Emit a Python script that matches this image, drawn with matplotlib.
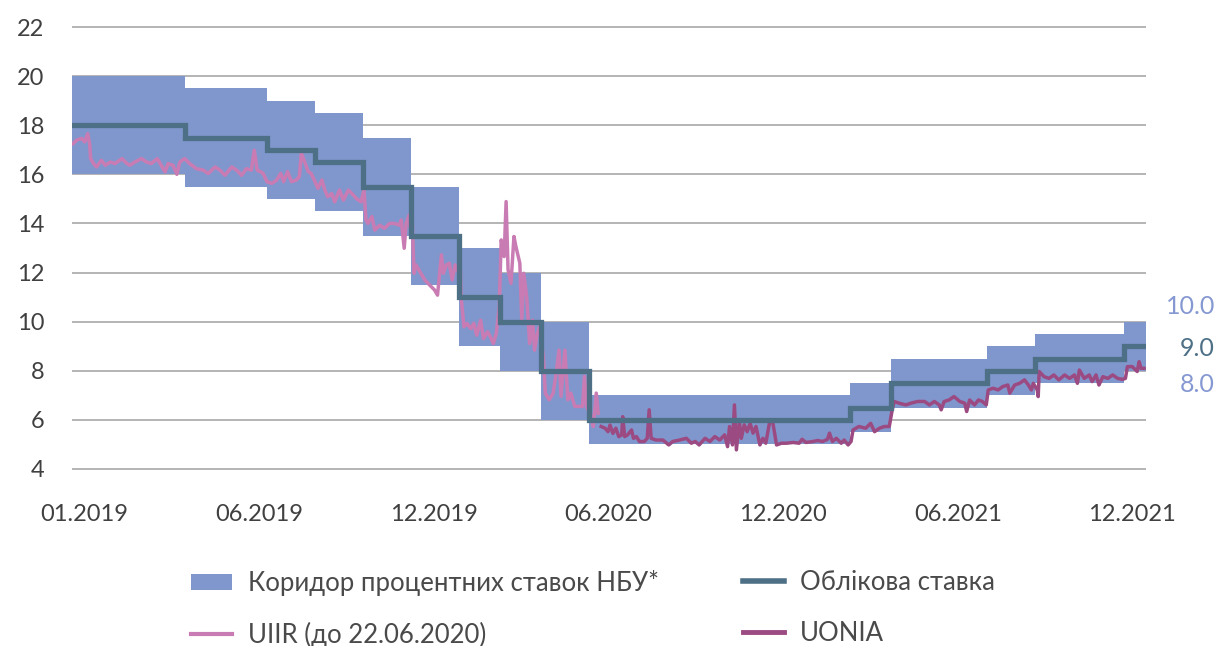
import matplotlib
matplotlib.use("Agg")
import matplotlib.pyplot as plt
from matplotlib.patches import Patch
from matplotlib.lines import Line2D
import numpy as np
import pandas as pd

plt.rcParams['font.family'] = ['Lato', 'DejaVu Sans']

# ---------------- data ----------------
start_date = '2019-01-01'
end_date = '2021-12-31'

# NBU key policy rate and interest-rate corridor (step changes)
key_dates = ['2019-01-01', '2019-04-26', '2019-07-19', '2019-09-06', '2019-10-25',
             '2019-12-13', '2020-01-31', '2020-03-13', '2020-04-24', '2020-06-12',
             '2021-03-05', '2021-04-16', '2021-07-23', '2021-09-10', '2021-12-10']
key_rate = [18, 17.5, 17, 16.5, 15.5, 13.5, 11, 10, 8, 6, 6.5, 7.5, 8, 8.5, 9]
corridor_low = [16, 15.5, 15, 14.5, 13.5, 11.5, 9, 8, 6, 5, 5.5, 6.5, 7, 7.5, 8]
corridor_high = [20, 19.5, 19, 18.5, 17.5, 15.5, 13, 12, 10, 7, 7.5, 8.5, 9, 9.5, 10]

# UIIR (until 22.06.2020): days since 01.01.2019, value %
uiir_day = [1, 5, 10, 13, 16, 18, 19, 22, 25, 30, 34, 39, 44, 51, 56, 59, 64, 71, 76, 81,
            87, 91, 95, 98, 103, 107, 110, 115, 120, 127, 134, 139, 146, 151, 156, 163, 168,
            173, 178, 183, 186, 189, 192, 195, 199, 204, 209, 213, 216, 220, 224, 229, 232,
            234, 238, 241, 244, 248, 251, 255, 258, 261, 265, 268, 273, 277, 282, 287, 290,
            295, 298, 300, 302, 306, 309, 314, 319, 324, 329, 334, 336, 339, 341, 344, 345,
            347, 349, 351, 355, 360, 365, 370, 373, 377, 379, 382, 385, 388, 391, 394, 396,
            397, 400, 403, 407, 410, 413, 417, 420, 424, 427, 430, 433, 436, 438, 441, 443,
            445, 448, 451, 453, 457, 459, 461, 464, 467, 470, 472, 475, 477, 481, 483, 487,
            491, 494, 497, 499, 503, 506, 509, 513, 517, 521, 523, 525, 530, 532, 535, 537]
uiir_val = [17.25, 17.40, 17.46, 17.32, 17.66, 17.25, 16.64, 16.44, 16.30, 16.57, 16.37,
            16.50, 16.44, 16.64, 16.44, 16.37, 16.50, 16.64, 16.50, 16.44, 16.64, 16.37,
            16.10, 16.44, 16.37, 16.00, 16.50, 16.64, 16.44, 16.23, 16.17, 16.03, 16.30,
            16.17, 15.96, 16.30, 16.17, 15.96, 16.23, 16.17, 16.98, 16.17, 16.11, 16.04,
            15.70, 15.63, 15.77, 16.04, 15.70, 16.11, 15.70, 15.77, 15.91, 16.86, 16.45,
            16.11, 16.04, 15.70, 15.43, 15.77, 15.36, 15.09, 15.22, 14.88, 15.36, 14.95,
            15.36, 15.16, 15.02, 14.88, 15.36, 14.14, 14.00, 14.28, 13.73, 13.93, 13.80,
            14.00, 14.00, 13.93, 14.14, 12.99, 14.00, 14.34, 13.86, 14.34, 11.97, 12.31,
            12.04, 11.70, 11.49, 11.29, 11.08, 12.72, 11.97, 12.31, 12.38, 11.70, 12.31,
            12.04, 12.65, 11.02, 9.79, 9.93, 9.72, 9.93, 9.45, 10.06, 9.31, 9.59, 9.38,
            9.11, 9.52, 10.61, 13.33, 12.65, 14.89, 12.11, 11.56, 13.47, 13.06, 12.38,
            10.07, 11.97, 11.02, 9.11, 10.06, 8.84, 9.52, 9.79, 8.58, 7.09, 6.82, 7.09,
            7.90, 8.84, 6.96, 8.84, 6.82, 7.09, 6.55, 6.55, 6.55, 7.77, 6.55, 6.14, 5.73,
            7.09, 6.27]

# UONIA: days since 01.01.2019, value %
uonia_day = [540, 544, 547, 549, 552, 555, 558, 561, 562, 564, 567, 571, 573, 576, 579, 584,
             587, 589, 591, 596, 603, 609, 613, 620, 627, 632, 636, 640, 646, 651, 656, 661,
             666, 669, 671, 674, 676, 678, 681, 683, 686, 689, 692, 695, 698, 702, 705, 708,
             712, 715, 719, 724, 729, 736, 742, 745, 749, 756, 761, 766, 771, 773, 776, 780,
             785, 788, 792, 795, 797, 803, 810, 815, 819, 824, 829, 834, 837, 839, 844, 851,
             856, 863, 870, 875, 880, 885, 887, 890, 895, 900, 906, 911, 913, 916, 921, 925,
             929, 933, 935, 940, 945, 950, 955, 957, 962, 967, 972, 976, 979, 981, 985, 986,
             987, 992, 997, 1002, 1007, 1013, 1018, 1023, 1026, 1028, 1033, 1038, 1041, 1045,
             1048, 1052, 1057, 1062, 1067, 1072, 1075, 1077, 1082, 1087, 1089, 1091, 1094]
uonia_val = [5.73, 5.66, 5.52, 5.79, 5.45, 5.66, 5.32, 5.39, 6.13, 5.32, 5.39, 5.59, 5.25,
             5.32, 5.12, 5.12, 5.25, 6.41, 5.25, 5.18, 5.18, 4.98, 5.12, 5.18, 5.25, 5.05,
             5.12, 4.98, 5.25, 5.12, 5.32, 5.18, 5.39, 4.91, 5.73, 4.98, 6.61, 4.78, 5.93,
             5.25, 5.80, 5.52, 5.86, 5.46, 5.73, 4.98, 5.25, 5.05, 5.93, 5.93, 4.98, 5.05,
             5.05, 5.08, 5.05, 5.21, 5.08, 5.12, 5.16, 5.12, 5.21, 5.46, 5.12, 5.25, 5.05,
             5.18, 4.98, 5.12, 5.59, 5.73, 5.66, 5.86, 5.52, 5.66, 5.73, 5.73, 6.41, 6.75,
             6.68, 6.61, 6.68, 6.75, 6.75, 6.61, 6.75, 6.61, 6.41, 6.75, 6.81, 6.95, 6.75,
             6.68, 6.34, 6.81, 6.61, 6.81, 6.75, 6.61, 7.22, 7.29, 7.22, 7.36, 7.42, 7.09,
             7.42, 7.49, 7.63, 7.42, 7.22, 7.49, 7.22, 6.95, 7.97, 7.76, 7.69, 7.83, 7.63,
             7.83, 7.69, 7.83, 7.49, 8.03, 7.69, 7.83, 7.56, 7.83, 7.42, 7.76, 7.69, 7.83,
             7.69, 7.65, 7.69, 8.17, 8.17, 7.97, 8.37, 8.10, 8.10]

x_labels = ['01.2019', '06.2019', '12.2019', '06.2020', '12.2020', '06.2021', '12.2021']
y_ticks = [4, 6, 8, 10, 12, 14, 16, 18, 20, 22]

legend_labels = ['Коридор процентних ставок НБУ*', 'UIIR (до 22.06.2020)',
                 'Облікова ставка', 'UONIA']
end_labels = ['10.0', '9.0', '8.0']

# ---------------- styling ----------------
c_band = '#8097CD'
c_key = '#4D7086'
c_uiir = '#C97CB3'
c_uonia = '#9C4A82'
c_grid = '#A8A8A8'
c_text = '#404040'
c_leg = '#4A4A4A'
c_end_light = '#8598D2'

W, H = 1216, 646
fig = plt.figure(figsize=(W / 100, H / 100), dpi=100)

ymin, ymax = 3.95, 22.05
px_per_unit = (469 - 27) / 18.0
top_px = 27 - (ymax - 22) * px_per_unit
bot_px = 469 + (4 - ymin) * px_per_unit
ax = fig.add_axes([72 / W, 1 - bot_px / H, (1146 - 72) / W, (bot_px - top_px) / H])

t0 = pd.Timestamp(start_date)
total_days = (pd.Timestamp(end_date) - t0).days + 1
kd = list((pd.to_datetime(key_dates) - t0).days) + [total_days]

def ext(v):
    return list(v) + [v[-1]]

ax.fill_between(kd, ext(corridor_low), ext(corridor_high), step='post',
                color=c_band, linewidth=0, zorder=2)
ax.step(kd, ext(key_rate), where='post', color=c_key, linewidth=3.8, zorder=4,
        solid_joinstyle='miter')
ax.plot(uiir_day, uiir_val, color=c_uiir, linewidth=2.5, zorder=3)
ax.plot(uonia_day, uonia_val, color=c_uonia, linewidth=2.5, zorder=3)

ax.set_xlim(0, total_days)
ax.set_ylim(ymin, ymax)
for s in ax.spines.values():
    s.set_visible(False)
ax.set_yticks(y_ticks)
ax.yaxis.grid(True, color=c_grid, linewidth=1.2)
ax.set_axisbelow(True)

# tick label positions evenly spaced across the axis (as in the source)
tick_pos = np.linspace(13, 1082, len(x_labels))
ax.set_xticks(tick_pos)
ax.set_xticklabels(x_labels)
ax.tick_params(axis='both', length=0, labelsize=17, colors=c_text)
ax.tick_params(axis='x', pad=24)
ax.tick_params(axis='y', pad=20)

# end-of-series value labels
end_colors = [c_end_light, c_key, c_end_light]
end_y = [307, 349, 385]
for txt, col, yy in zip(end_labels, end_colors, end_y):
    fig.text(1215 / W, 1 - yy / H, txt, ha='right', va='center', fontsize=18,
             color=col)

# legend
h_band = Patch(facecolor=c_band, edgecolor='none')
h_uiir = Line2D([], [], color=c_uiir, linewidth=3)
h_key = Line2D([], [], color=c_key, linewidth=4)
h_uonia = Line2D([], [], color=c_uonia, linewidth=3.5)

leg_kw = dict(frameon=False, handlelength=1.6, handletextpad=0.62, handleheight=0.6,
              labelspacing=1.0, borderpad=0, borderaxespad=0, loc='upper left',
              labelcolor=c_leg, prop={'size': 18.5})
leg1 = fig.legend([h_band, h_uiir], legend_labels[:2],
                  bbox_to_anchor=(191 / W, 1 - 570 / H), **leg_kw)
leg2 = fig.legend([h_key, h_uonia], legend_labels[2:],
                  bbox_to_anchor=(743 / W, 1 - 570 / H), **leg_kw)

fig.savefig('out.png', dpi=100)
